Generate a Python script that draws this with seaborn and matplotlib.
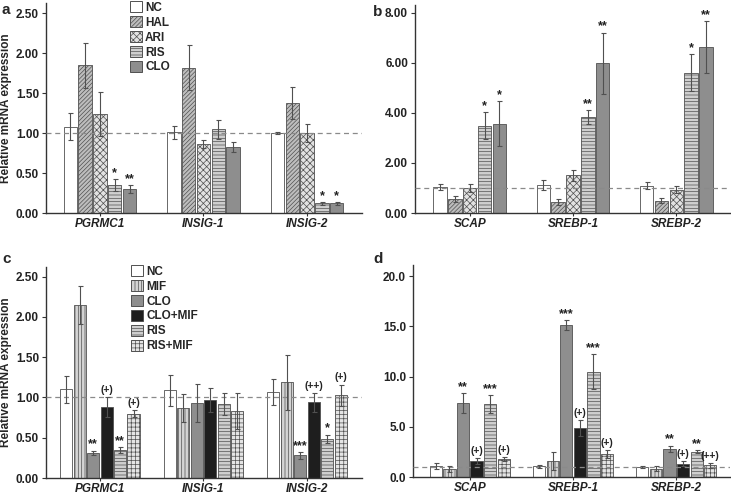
import pandas as pd
import matplotlib
matplotlib.use('Agg')
import matplotlib.pyplot as plt
import seaborn as sns
from matplotlib.patches import Patch

# ---- datos panel a / b (antipsicóticos) ----
genes_a = ['PGRMC1', 'INSIG-1', 'INSIG-2']
genes_b = ['SCAP', 'SREBP-1', 'SREBP-2']
grupos_ab = ['NC', 'HAL', 'ARI', 'RIS', 'CLO']

media_a = [[1.08, 1.85, 1.24, 0.35, 0.30],
           [1.01, 1.82, 0.87, 1.05, 0.83],
           [1.00, 1.38, 1.00, 0.12, 0.12]]
error_a = [[0.17, 0.28, 0.27, 0.07, 0.05],
           [0.08, 0.28, 0.05, 0.12, 0.06],
           [0.01, 0.20, 0.11, 0.02, 0.02]]
marcas_a = [['', '', '', '*', '**'],
            ['', '', '', '', ''],
            ['', '', '', '*', '*']]

media_b = [[1.03, 0.56, 1.00, 3.49, 3.57],
           [1.12, 0.44, 1.50, 3.83, 5.97],
           [1.09, 0.49, 0.93, 5.60, 6.62]]
error_b = [[0.13, 0.12, 0.16, 0.55, 0.88],
           [0.20, 0.11, 0.22, 0.27, 1.23],
           [0.15, 0.11, 0.13, 0.73, 1.05]]
marcas_b = [['', '', '', '*', '*'],
            ['', '', '', '**', '**'],
            ['', '', '', '*', '**']]

# ---- datos panel c / d (con mifepristona) ----
grupos_cd = ['NC', 'MIF', 'CLO', 'CLO+MIF', 'RIS', 'RIS+MIF']

media_c = [[1.10, 2.15, 0.31, 0.88, 0.345, 0.80],
           [1.09, 0.87, 0.93, 0.97, 0.92, 0.83],
           [1.07, 1.19, 0.28, 0.94, 0.49, 1.03]]
error_c = [[0.17, 0.24, 0.03, 0.12, 0.04, 0.04],
           [0.19, 0.17, 0.24, 0.15, 0.14, 0.22],
           [0.16, 0.34, 0.04, 0.12, 0.05, 0.13]]
marcas_c = [['', '', '**', '(+)', '**', '(+)'],
            ['', '', '', '', '', ''],
            ['', '', '***', '(++)', '*', '(+)']]

media_d = [[1.06, 0.83, 7.37, 1.60, 7.24, 1.80],
           [1.06, 1.60, 15.1, 4.90, 10.5, 2.26],
           [1.00, 0.83, 2.82, 1.33, 2.50, 1.16]]
error_d = [[0.30, 0.30, 1.00, 0.30, 0.90, 0.20],
           [0.15, 0.90, 0.50, 0.80, 1.70, 0.40],
           [0.10, 0.25, 0.30, 0.25, 0.15, 0.25]]
marcas_d = [['', '', '**', '(+)', '***', '(+)'],
            ['', '', '***', '(+)', '***', '(+)'],
            ['', '', '**', '(+)', '**', '(++)']]

colores_ab = {'NC': '#ffffff', 'HAL': '#bdbdbd', 'ARI': '#e2e2e2', 'RIS': '#cfcfcf', 'CLO': '#8e8e8e'}
tramas_ab = ['', '////////', 'xxxxx', '-----', '']
colores_cd = {'NC': '#ffffff', 'MIF': '#d4d4d4', 'CLO': '#8e8e8e', 'CLO+MIF': '#1e1e1e',
              'RIS': '#cfcfcf', 'RIS+MIF': '#e4e4e4'}
tramas_cd = ['', '|||||', '', '', '-----', '++++']

sns.set_style('white')
plt.rcParams['font.family'] = ['Liberation Sans', 'DejaVu Sans']
plt.rcParams['font.weight'] = 'bold'
plt.rcParams['hatch.linewidth'] = 0.5

W, H = 731, 498
fig = plt.figure(figsize=(W / 100, H / 100), dpi=100)


def ejes(izq, der, arriba, abajo):
    return fig.add_axes([izq / W, (H - abajo) / H, (der - izq) / W, (abajo - arriba) / H])


def panel(ax, genes, grupos, medias, errores, marcas, colores, tramas, ancho, ylim, xlim, ticks, fmt):
    filas = []
    for gi, g in enumerate(genes):
        for ki, k in enumerate(grupos):
            filas.append({'Gen': g, 'Grupo': k, 'Valor': medias[gi][ki]})
    df = pd.DataFrame(filas)
    sns.barplot(data=df, x='Gen', y='Valor', hue='Grupo', hue_order=grupos, palette=colores,
                width=ancho, gap=0.1, errorbar=None, saturation=1, edgecolor='#505050',
                linewidth=0.6, legend=False, ax=ax)
    contenedores = list(ax.containers)
    for ki, cont in enumerate(contenedores):
        for gi, barra in enumerate(cont):
            barra.set_hatch(tramas[ki])
            x = barra.get_x() + barra.get_width() / 2
            y = barra.get_height()
            e = errores[gi][ki]
            ax.errorbar(x, y, yerr=e, color='#505050', capsize=1.8, elinewidth=0.8,
                        capthick=0.8, zorder=4)
            if marcas[gi][ki]:
                estrella = marcas[gi][ki].startswith('*')
                ax.annotate(marcas[gi][ki], (x, y + e), xytext=(0, 0 if estrella else 1.5),
                            textcoords='offset points', ha='center', va='bottom',
                            fontsize=9 if estrella else 7.5, fontweight='bold', color='#222222')
    ax.axhline(1, color='#8a8a8a', ls=(0, (4, 3)), lw=0.9, zorder=3)
    ax.set_ylim(*ylim)
    ax.set_xlim(*xlim)
    ax.set_yticks(ticks)
    ax.set_yticklabels([fmt % t for t in ticks], fontsize=8.5, fontweight='bold', color='#222222')
    ax.set_xticks(range(len(genes)))
    ax.set_xticklabels(genes, fontsize=8.5, fontweight='bold', style='italic', color='#222222')
    ax.set_xlabel('')
    ax.set_ylabel('')
    for lado in ['top', 'right']:
        ax.spines[lado].set_visible(False)
    for lado in ['left', 'bottom']:
        ax.spines[lado].set_color('#333333')
        ax.spines[lado].set_linewidth(1.0)
    ax.tick_params(axis='y', length=3, width=0.8, color='#333333', pad=2, direction='out', left=True)
    ax.tick_params(axis='x', length=2, width=0.8, color='#333333', pad=1.5, direction='out', bottom=True)


def leyenda(ax, grupos, colores, tramas, x0):
    manijas = [Patch(facecolor=colores[k], edgecolor='#505050', hatch=t, linewidth=0.7, label=k)
               for k, t in zip(grupos, tramas)]
    ax.legend(handles=manijas, loc='upper left', bbox_to_anchor=(x0, 1.03), frameon=False,
              handlelength=1.0, handleheight=1.0, handletextpad=0.3,
              labelspacing=0.22, borderaxespad=0,
              prop={'weight': 'bold', 'size': 8.5})


ax_a = ejes(46, 362, 3, 213)
panel(ax_a, genes_a, grupos_ab, media_a, error_a, marcas_a, colores_ab, tramas_ab, 0.715,
      (0, 2.63), (-0.52, 2.53), [0, 0.5, 1.0, 1.5, 2.0, 2.5], '%.2f')
leyenda(ax_a, grupos_ab, colores_ab, tramas_ab, 0.25)
ax_a.set_ylabel('Relative mRNA expression', fontsize=8.5, fontweight='bold', labelpad=3)

ax_b = ejes(415, 730, 5, 213)
panel(ax_b, genes_b, grupos_ab, media_b, error_b, marcas_b, colores_ab, tramas_ab, 0.72,
      (0, 8.3), (-0.53, 2.52), [0, 2, 4, 6, 8], '%.2f')

ax_c = ejes(46, 362, 267, 478)
panel(ax_c, genes_a, grupos_cd, media_c, error_c, marcas_c, colores_cd, tramas_cd, 0.78,
      (0, 2.62), (-0.52, 2.53), [0, 0.5, 1.0, 1.5, 2.0, 2.5], '%.2f')
leyenda(ax_c, grupos_cd, colores_cd, tramas_cd, 0.255)
ax_c.set_ylabel('Relative mRNA expression', fontsize=8.5, fontweight='bold', labelpad=3)

ax_d = ejes(413, 730, 265, 477)
panel(ax_d, genes_b, grupos_cd, media_d, error_d, marcas_d, colores_cd, tramas_cd, 0.79,
      (0, 21.1), (-0.55, 2.52), [0, 5, 10, 15, 20], '%.1f')

for letra, x, y in [('a', 2, 10), ('b', 373, 12), ('c', 2, 259), ('d', 373, 259)]:
    fig.text(x / W, (H - y) / H, letra, fontsize=11, fontweight='bold', va='center', ha='left')

fig.savefig('out.png', dpi=100)
